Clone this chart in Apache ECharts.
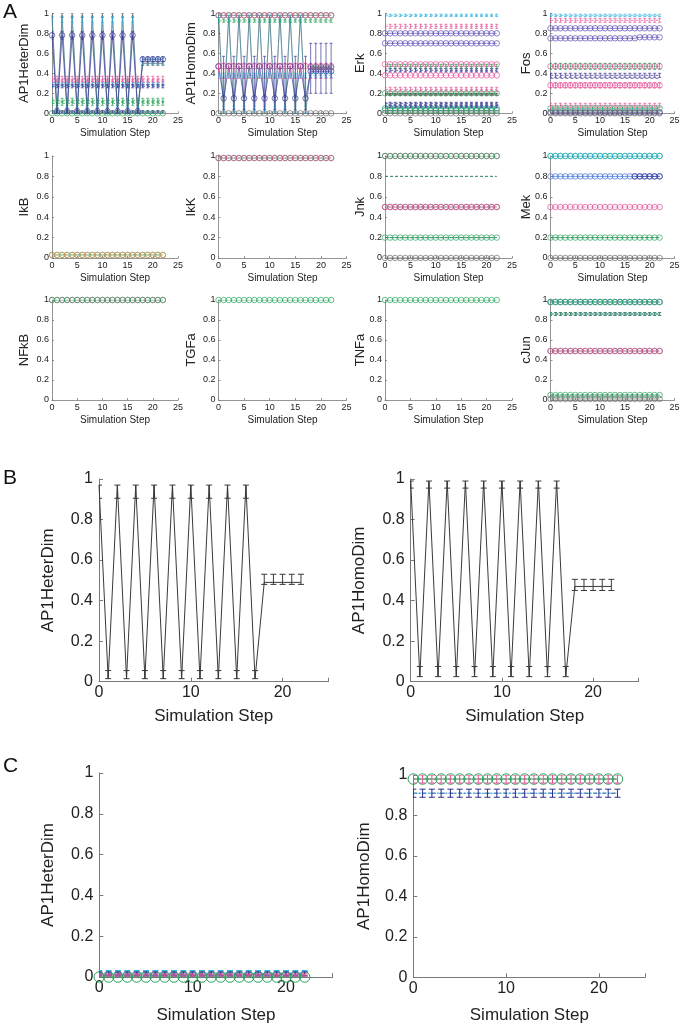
<!DOCTYPE html>
<html><head><meta charset="utf-8">
<script src="https://cdn.jsdelivr.net/npm/echarts@6/dist/echarts.min.js"></script>
<style>html,body{margin:0;padding:0;background:#fff}#c{width:682px;height:1029px}</style>
</head><body><div id="c"></div>
<script>
// ---------------- DATA ----------------
const steps = [0,1,2,3,4,5,6,7,8,9,10,11,12,13,14,15,16,17,18,19,20,21,22];
const panelANames = ['AP1HeterDim','AP1HomoDim','Erk','Fos','IkB','IkK','Jnk','Mek','NFkB','TGFa','TNFa','cJun'];

// A1 AP1HeterDim
const heterZigLow  = [0.74,0,0.74,0,0.74,0,0.74,0,0.74,0,0.74,0,0.74,0,0.74,0,0.74,0,0.515,0.515,0.515,0.515,0.515];
const heterZigHigh = [0.82,0.05,0.82,0.05,0.82,0.05,0.82,0.05,0.82,0.05,0.82,0.05,0.82,0.05,0.82,0.05,0.82,0.05,0.565,0.565,0.565,0.565,0.565];
const heterDimA = [
  [0.98,0.01,0.98,0.01,0.98,0.01,0.98,0.01,0.98,0.01,0.98,0.01,0.98,0.01,0.98,0.01,0.98,0.01,0.5,0.5,0.5,0.5,0.5],
  [0.94,0.03,0.94,0.03,0.94,0.03,0.94,0.03,0.94,0.03,0.94,0.03,0.94,0.03,0.94,0.03,0.94,0.03,0.52,0.52,0.52,0.52,0.52],
  [0.345,0.345,0.345,0.345,0.345,0.345,0.345,0.345,0.345,0.345,0.345,0.345,0.345,0.345,0.345,0.345,0.345,0.345,0.345,0.345,0.345,0.345,0.345],
  [0.31,0.31,0.31,0.31,0.31,0.31,0.31,0.31,0.31,0.31,0.31,0.31,0.31,0.31,0.31,0.31,0.31,0.31,0.31,0.31,0.31,0.31,0.31],
  [0.29,0.29,0.29,0.29,0.29,0.29,0.29,0.29,0.29,0.29,0.29,0.29,0.29,0.29,0.29,0.29,0.29,0.29,0.29,0.29,0.29,0.29,0.29],
  [0.27,0.27,0.27,0.27,0.27,0.27,0.27,0.27,0.27,0.27,0.27,0.27,0.27,0.27,0.27,0.27,0.27,0.27,0.27,0.27,0.27,0.27,0.27],
  [0.13,0.13,0.13,0.13,0.13,0.13,0.13,0.13,0.13,0.13,0.13,0.13,0.13,0.13,0.13,0.13,0.13,0.13,0.13,0.13,0.13,0.13,0.13],
  [0.10,0.10,0.10,0.10,0.10,0.10,0.10,0.10,0.10,0.10,0.10,0.10,0.10,0.10,0.10,0.10,0.10,0.10,0.10,0.10,0.10,0.10,0.10],
  [0.015,0.015,0.015,0.015,0.015,0.015,0.015,0.015,0.015,0.015,0.015,0.015,0.015,0.015,0.015,0.015,0.015,0.015,0.015,0.015,0.015,0.015,0.015],
  [0,0,0,0,0,0,0,0,0,0,0,0,0,0,0,0,0,0,0,0,0,0,0],
  [0.78,0.02,0.78,0.02,0.78,0.02,0.78,0.02,0.78,0.02,0.78,0.02,0.78,0.02,0.78,0.02,0.78,0.02,0.54,0.54,0.54,0.54,0.54]
];
const heterDimAErr = [0.02, 0.03, 0.025, 0.025, 0.015, 0.015, 0.02, 0.02, 0.01, 0, {lo: heterZigLow, hi: heterZigHigh}];
const heterDimAStyle = ['grayL','cyanDot','pinkD','pinkD','cyanD','navyD','greenD','greenD','navyDot','greenO','navyO'];

// A2 AP1HomoDim
const homoZigLow  = [0.47,0.04,0.47,0.04,0.47,0.04,0.47,0.04,0.47,0.04,0.47,0.04,0.47,0.04,0.47,0.04,0.47,0.04,0.2,0.2,0.2,0.2,0.2];
const homoZigHigh = [0.47,0.57,0.47,0.57,0.47,0.57,0.47,0.57,0.47,0.57,0.47,0.57,0.47,0.57,0.47,0.57,0.47,0.57,0.7,0.7,0.7,0.7,0.7];
const homoDimA = [
  [0.98,0.0,0.98,0.0,0.98,0.0,0.98,0.0,0.98,0.0,0.98,0.0,0.98,0.0,0.98,0.0,0.98,0.0,0.46,0.46,0.46,0.46,0.46],
  [0.95,0.04,0.95,0.04,0.95,0.04,0.95,0.04,0.95,0.04,0.95,0.04,0.95,0.04,0.95,0.04,0.95,0.04,0.44,0.44,0.44,0.44,0.44],
  [0.98,0.98,0.98,0.98,0.98,0.98,0.98,0.98,0.98,0.98,0.98,0.98,0.98,0.98,0.98,0.98,0.98,0.98,0.98,0.98,0.98,0.98,0.98],
  [0.98,0.98,0.98,0.98,0.98,0.98,0.98,0.98,0.98,0.98,0.98,0.98,0.98,0.98,0.98,0.98,0.98,0.98,0.98,0.98,0.98,0.98,0.98],
  [0.925,0.925,0.925,0.925,0.925,0.925,0.925,0.925,0.925,0.925,0.925,0.925,0.925,0.925,0.925,0.925,0.925,0.925,0.925,0.925,0.925,0.925,0.925],
  [0.47,0.47,0.47,0.47,0.47,0.47,0.47,0.47,0.47,0.47,0.47,0.47,0.47,0.47,0.47,0.47,0.47,0.47,0.47,0.47,0.47,0.47,0.47],
  [0.38,0.38,0.38,0.38,0.38,0.38,0.38,0.38,0.38,0.38,0.38,0.38,0.38,0.38,0.38,0.38,0.38,0.38,0.38,0.38,0.38,0.38,0.38],
  [null,null,null,null,null,null,null,null,null,null,null,null,null,null,null,null,null,null,0.46,0.46,0.46,0.46,0.46],
  [0,0,0,0,0,0,0,0,0,0,0,0,0,0,0,0,0,0,0,0,0,0,0],
  [0.47,0.15,0.47,0.15,0.47,0.15,0.47,0.15,0.47,0.15,0.47,0.15,0.47,0.15,0.47,0.15,0.47,0.15,0.42,0.42,0.42,0.42,0.42]
];
const homoDimAErr = [0, 0.03, 0, 0, 0.015, {lo: 0.35, hi: 0.5}, 0.02, 0, 0, {lo: homoZigLow, hi: homoZigHigh}];
const homoDimAStyle = ['grayL','cyanDot','greenO','pinkO','greenD','pinkO','cyanD','grayO','grayO','navyO'];

// A3 Erk
const erkA = [
  [0.98,0.98,0.98,0.98,0.98,0.98,0.98,0.98,0.98,0.98,0.98,0.98,0.98,0.98,0.98,0.98,0.98,0.98,0.98,0.98,0.98,0.98,0.98],
  [0.87,0.87,0.87,0.87,0.87,0.87,0.87,0.87,0.87,0.87,0.87,0.87,0.87,0.87,0.87,0.87,0.87,0.87,0.87,0.87,0.87,0.87,0.87],
  [0.80,0.80,0.80,0.80,0.80,0.80,0.80,0.80,0.80,0.80,0.80,0.80,0.80,0.80,0.80,0.80,0.80,0.80,0.80,0.80,0.80,0.80,0.80],
  [0.70,0.70,0.70,0.70,0.70,0.70,0.70,0.70,0.70,0.70,0.70,0.70,0.70,0.70,0.70,0.70,0.70,0.70,0.70,0.70,0.70,0.70,0.70],
  [0.49,0.49,0.49,0.49,0.49,0.49,0.49,0.49,0.49,0.49,0.49,0.49,0.49,0.49,0.49,0.49,0.49,0.49,0.49,0.49,0.49,0.49,0.49],
  [0.47,0.47,0.47,0.47,0.47,0.47,0.47,0.47,0.47,0.47,0.47,0.47,0.47,0.47,0.47,0.47,0.47,0.47,0.47,0.47,0.47,0.47,0.47],
  [0.43,0.43,0.43,0.43,0.43,0.43,0.43,0.43,0.43,0.43,0.43,0.43,0.43,0.43,0.43,0.43,0.43,0.43,0.43,0.43,0.43,0.43,0.43],
  [0.38,0.38,0.38,0.38,0.38,0.38,0.38,0.38,0.38,0.38,0.38,0.38,0.38,0.38,0.38,0.38,0.38,0.38,0.38,0.38,0.38,0.38,0.38],
  [0.24,0.24,0.24,0.24,0.24,0.24,0.24,0.24,0.24,0.24,0.24,0.24,0.24,0.24,0.24,0.24,0.24,0.24,0.24,0.24,0.24,0.24,0.24],
  [0.20,0.20,0.20,0.20,0.20,0.20,0.20,0.20,0.20,0.20,0.20,0.20,0.20,0.20,0.20,0.20,0.20,0.20,0.20,0.20,0.20,0.20,0.20],
  [0.19,0.19,0.19,0.19,0.19,0.19,0.19,0.19,0.19,0.19,0.19,0.19,0.19,0.19,0.19,0.19,0.19,0.19,0.19,0.19,0.19,0.19,0.19],
  [0.10,0.10,0.10,0.10,0.10,0.10,0.10,0.10,0.10,0.10,0.10,0.10,0.10,0.10,0.10,0.10,0.10,0.10,0.10,0.10,0.10,0.10,0.10],
  [0.07,0.07,0.07,0.07,0.07,0.07,0.07,0.07,0.07,0.07,0.07,0.07,0.07,0.07,0.07,0.07,0.07,0.07,0.07,0.07,0.07,0.07,0.07],
  [0.05,0.05,0.05,0.05,0.05,0.05,0.05,0.05,0.05,0.05,0.05,0.05,0.05,0.05,0.05,0.05,0.05,0.05,0.05,0.05,0.05,0.05,0.05],
  [0.03,0.03,0.03,0.03,0.03,0.03,0.03,0.03,0.03,0.03,0.03,0.03,0.03,0.03,0.03,0.03,0.03,0.03,0.03,0.03,0.03,0.03,0.03],
  [0,0,0,0,0,0,0,0,0,0,0,0,0,0,0,0,0,0,0,0,0,0,0]
];
const erkAErr = [0.012, 0.02, 0, 0, 0, 0.02, 0.015, 0, 0.02, 0, 0.01, 0.01, 0.01, 0, 0, 0];
const erkAStyle = ['cyanD','pinkD','purpleO','purpleO','pinkO','greenD','navyD','pinkO','pinkD','greenO','grayL','navyD','navyD','tealO','greenO','grayO'];

// A4 Fos
const fosA = [
  [0.98,0.98,0.98,0.98,0.98,0.98,0.98,0.98,0.98,0.98,0.98,0.98,0.98,0.98,0.98,0.98,0.98,0.98,0.98,0.98,0.98,0.98,0.98],
  [0.93,0.93,0.93,0.93,0.93,0.93,0.93,0.93,0.93,0.93,0.93,0.93,0.93,0.93,0.93,0.93,0.93,0.93,0.93,0.93,0.93,0.93,0.93],
  [0.85,0.85,0.85,0.85,0.85,0.85,0.85,0.85,0.85,0.85,0.85,0.85,0.85,0.85,0.85,0.85,0.85,0.85,0.85,0.85,0.85,0.85,0.85],
  [0.75,0.75,0.75,0.75,0.75,0.75,0.75,0.75,0.75,0.75,0.75,0.75,0.75,0.75,0.75,0.75,0.75,0.75,0.76,0.76,0.76,0.76,0.76],
  [0.47,0.47,0.47,0.47,0.47,0.47,0.47,0.47,0.47,0.47,0.47,0.47,0.47,0.47,0.47,0.47,0.47,0.47,0.47,0.47,0.47,0.47,0.47],
  [0.47,0.47,0.47,0.47,0.47,0.47,0.47,0.47,0.47,0.47,0.47,0.47,0.47,0.47,0.47,0.47,0.47,0.47,0.47,0.47,0.47,0.47,0.47],
  [0.38,0.38,0.38,0.38,0.38,0.38,0.38,0.38,0.38,0.38,0.38,0.38,0.38,0.38,0.38,0.38,0.38,0.38,0.38,0.38,0.38,0.38,0.38],
  [0.35,0.35,0.35,0.35,0.35,0.35,0.35,0.35,0.35,0.35,0.35,0.35,0.35,0.35,0.35,0.35,0.35,0.35,0.35,0.35,0.35,0.35,0.35],
  [0.28,0.28,0.28,0.28,0.28,0.28,0.28,0.28,0.28,0.28,0.28,0.28,0.28,0.28,0.28,0.28,0.28,0.28,0.28,0.28,0.28,0.28,0.28],
  [0.08,0.08,0.08,0.08,0.08,0.08,0.08,0.08,0.08,0.08,0.08,0.08,0.08,0.08,0.08,0.08,0.08,0.08,0.08,0.08,0.08,0.08,0.08],
  [0.05,0.05,0.05,0.05,0.05,0.05,0.05,0.05,0.05,0.05,0.05,0.05,0.05,0.05,0.05,0.05,0.05,0.05,0.05,0.05,0.05,0.05,0.05],
  [0.01,0.01,0.01,0.01,0.01,0.01,0.01,0.01,0.01,0.01,0.01,0.01,0.01,0.01,0.01,0.01,0.01,0.01,0.01,0.01,0.01,0.01,0.01],
  [0,0,0,0,0,0,0,0,0,0,0,0,0,0,0,0,0,0,0,0,0,0,0]
];
const fosAErr = [0.012, 0.02, 0, 0, 0, 0.03, 0.02, 0, 0.025, 0.02, 0, 0, 0];
const fosAStyle = ['cyanD','pinkD','purpleO','purpleO','pinkO','greenD','navyD','navyD','pinkO','pinkD','greenO','navyO','grayO'];

// A5 IkB
const ikbA = [
  [0.03,0.03,0.03,0.03,0.03,0.03,0.03,0.03,0.03,0.03,0.03,0.03,0.03,0.03,0.03,0.03,0.03,0.03,0.03,0.03,0.03,0.03,0.03],
  [0.03,0.03,0.03,0.03,0.03,0.03,0.03,0.03,0.03,0.03,0.03,0.03,0.03,0.03,0.03,0.03,0.03,0.03,0.03,0.03,0.03,0.03,0.03]
];
const ikbAErr = [0, 0];
const ikbAStyle = ['greenO','orangeO'];

// A6 IkK
const ikkA = [
  [0.98,0.98,0.98,0.98,0.98,0.98,0.98,0.98,0.98,0.98,0.98,0.98,0.98,0.98,0.98,0.98,0.98,0.98,0.98,0.98,0.98,0.98,0.98],
  [0.98,0.98,0.98,0.98,0.98,0.98,0.98,0.98,0.98,0.98,0.98,0.98,0.98,0.98,0.98,0.98,0.98,0.98,0.98,0.98,0.98,0.98,0.98]
];
const ikkAErr = [0, 0];
const ikkAStyle = ['greenO','pinkO'];

// A7 Jnk
const jnkA = [
  [1,1,1,1,1,1,1,1,1,1,1,1,1,1,1,1,1,1,1,1,1,1,1],
  [1,1,1,1,1,1,1,1,1,1,1,1,1,1,1,1,1,1,1,1,1,1,1],
  [0.8,0.8,0.8,0.8,0.8,0.8,0.8,0.8,0.8,0.8,0.8,0.8,0.8,0.8,0.8,0.8,0.8,0.8,0.8,0.8,0.8,0.8,0.8],
  [0.8,0.8,0.8,0.8,0.8,0.8,0.8,0.8,0.8,0.8,0.8,0.8,0.8,0.8,0.8,0.8,0.8,0.8,0.8,0.8,0.8,0.8,0.8],
  [0.5,0.5,0.5,0.5,0.5,0.5,0.5,0.5,0.5,0.5,0.5,0.5,0.5,0.5,0.5,0.5,0.5,0.5,0.5,0.5,0.5,0.5,0.5],
  [0.5,0.5,0.5,0.5,0.5,0.5,0.5,0.5,0.5,0.5,0.5,0.5,0.5,0.5,0.5,0.5,0.5,0.5,0.5,0.5,0.5,0.5,0.5],
  [0.2,0.2,0.2,0.2,0.2,0.2,0.2,0.2,0.2,0.2,0.2,0.2,0.2,0.2,0.2,0.2,0.2,0.2,0.2,0.2,0.2,0.2,0.2],
  [0.2,0.2,0.2,0.2,0.2,0.2,0.2,0.2,0.2,0.2,0.2,0.2,0.2,0.2,0.2,0.2,0.2,0.2,0.2,0.2,0.2,0.2,0.2],
  [0,0,0,0,0,0,0,0,0,0,0,0,0,0,0,0,0,0,0,0,0,0,0]
];
const jnkAErr = [0, 0, 0, 0, 0, 0, 0, 0, 0];
const jnkAStyle = ['pinkO','greenO','navyD','greenD','grayO','pinkO','navyD','greenO','grayO'];

// A8 Mek
const mekA = [
  [1,1,1,1,1,1,1,1,1,1,1,1,1,1,1,1,1,1,1,1,1,1,1],
  [1,1,1,1,1,1,1,1,1,1,1,1,1,1,1,1,1,1,1,1,1,1,1],
  [0.8,0.8,0.8,0.8,0.8,0.8,0.8,0.8,0.8,0.8,0.8,0.8,0.8,0.8,0.8,0.8,0.8,0.8,0.8,0.8,0.8,0.8,0.8],
  [null,null,null,null,null,null,null,null,null,null,null,null,null,null,null,null,null,0.8,0.8,0.8,0.8,0.8,0.8],
  [0.5,0.5,0.5,0.5,0.5,0.5,0.5,0.5,0.5,0.5,0.5,0.5,0.5,0.5,0.5,0.5,0.5,0.5,0.5,0.5,0.5,0.5,0.5],
  [0.2,0.2,0.2,0.2,0.2,0.2,0.2,0.2,0.2,0.2,0.2,0.2,0.2,0.2,0.2,0.2,0.2,0.2,0.2,0.2,0.2,0.2,0.2],
  [0.2,0.2,0.2,0.2,0.2,0.2,0.2,0.2,0.2,0.2,0.2,0.2,0.2,0.2,0.2,0.2,0.2,0.2,0.2,0.2,0.2,0.2,0.2],
  [0,0,0,0,0,0,0,0,0,0,0,0,0,0,0,0,0,0,0,0,0,0,0]
];
const mekAErr = [0, 0, 0, 0, 0, 0, 0, 0];
const mekAStyle = ['greenO','cyanO','blueO','navyO','pinkO','navyD','greenO','grayO'];

// A9 NFkB, A10 TGFa, A11 TNFa
const nfkbA = [
  [1,1,1,1,1,1,1,1,1,1,1,1,1,1,1,1,1,1,1,1,1,1,1],
  [1,1,1,1,1,1,1,1,1,1,1,1,1,1,1,1,1,1,1,1,1,1,1]
];
const nfkbAErr = [0, 0];
const nfkbAStyle = ['pinkO','greenO'];
const tgfaA = [[1,1,1,1,1,1,1,1,1,1,1,1,1,1,1,1,1,1,1,1,1,1,1]];
const tgfaAErr = [0];
const tgfaAStyle = ['greenO'];
const tnfaA = [[1,1,1,1,1,1,1,1,1,1,1,1,1,1,1,1,1,1,1,1,1,1,1]];
const tnfaAErr = [0];
const tnfaAStyle = ['greenO'];

// A12 cJun
const cjunA = [
  [0.98,0.98,0.98,0.98,0.98,0.98,0.98,0.98,0.98,0.98,0.98,0.98,0.98,0.98,0.98,0.98,0.98,0.98,0.98,0.98,0.98,0.98,0.98],
  [0.98,0.98,0.98,0.98,0.98,0.98,0.98,0.98,0.98,0.98,0.98,0.98,0.98,0.98,0.98,0.98,0.98,0.98,0.98,0.98,0.98,0.98,0.98],
  [0.98,0.98,0.98,0.98,0.98,0.98,0.98,0.98,0.98,0.98,0.98,0.98,0.98,0.98,0.98,0.98,0.98,0.98,0.98,0.98,0.98,0.98,0.98],
  [0.86,0.86,0.86,0.86,0.86,0.86,0.86,0.86,0.86,0.86,0.86,0.86,0.86,0.86,0.86,0.86,0.86,0.86,0.86,0.86,0.86,0.86,0.86],
  [0.86,0.86,0.86,0.86,0.86,0.86,0.86,0.86,0.86,0.86,0.86,0.86,0.86,0.86,0.86,0.86,0.86,0.86,0.86,0.86,0.86,0.86,0.86],
  [0.49,0.49,0.49,0.49,0.49,0.49,0.49,0.49,0.49,0.49,0.49,0.49,0.49,0.49,0.49,0.49,0.49,0.49,0.49,0.49,0.49,0.49,0.49],
  [0.49,0.49,0.49,0.49,0.49,0.49,0.49,0.49,0.49,0.49,0.49,0.49,0.49,0.49,0.49,0.49,0.49,0.49,0.49,0.49,0.49,0.49,0.49],
  [0.05,0.05,0.05,0.05,0.05,0.05,0.05,0.05,0.05,0.05,0.05,0.05,0.05,0.05,0.05,0.05,0.05,0.05,0.05,0.05,0.05,0.05,0.05],
  [0.05,0.05,0.05,0.05,0.05,0.05,0.05,0.05,0.05,0.05,0.05,0.05,0.05,0.05,0.05,0.05,0.05,0.05,0.05,0.05,0.05,0.05,0.05],
  [0.01,0.01,0.01,0.01,0.01,0.01,0.01,0.01,0.01,0.01,0.01,0.01,0.01,0.01,0.01,0.01,0.01,0.01,0.01,0.01,0.01,0.01,0.01]
];
const cjunAErr = [0, 0, 0, 0.015, 0.015, 0, 0, 0, 0, 0];
const cjunAStyle = ['pinkO','cyanO','greenO','navyD','greenD','grayO','pinkO','navyD','greenO','grayO'];

// Panel B
const heterB     = [0.97,0.015,0.97,0.015,0.97,0.015,0.97,0.015,0.97,0.015,0.97,0.015,0.97,0.015,0.97,0.015,0.97,0.015,0.49,0.49,0.49,0.49,0.49];
const heterBLow  = [0.905,0.015,0.905,0.015,0.905,0.015,0.905,0.015,0.905,0.015,0.905,0.015,0.905,0.015,0.905,0.015,0.905,0.015,0.48,0.48,0.48,0.48,0.48];
const heterBHigh = [0.97,0.055,0.97,0.055,0.97,0.055,0.97,0.055,0.97,0.055,0.97,0.055,0.97,0.055,0.97,0.055,0.97,0.055,0.53,0.53,0.53,0.53,0.53];
const homoB      = [0.99,0.025,0.99,0.025,0.99,0.025,0.99,0.025,0.99,0.025,0.99,0.025,0.99,0.025,0.99,0.025,0.99,0.025,0.47,0.47,0.47,0.47,0.47];
const homoBLow   = [0.955,0.025,0.955,0.025,0.955,0.025,0.955,0.025,0.955,0.025,0.955,0.025,0.955,0.025,0.955,0.025,0.955,0.025,0.45,0.45,0.45,0.45,0.45];
const homoBHigh  = [0.99,0.075,0.99,0.075,0.99,0.075,0.99,0.075,0.99,0.075,0.99,0.075,0.99,0.075,0.99,0.075,0.99,0.075,0.505,0.505,0.505,0.505,0.505];

// Panel C
const heterC = [
  [0.02,0.02,0.02,0.02,0.02,0.02,0.02,0.02,0.02,0.02,0.02,0.02,0.02,0.02,0.02,0.02,0.02,0.02,0.02,0.02,0.02,0.02,0.02],
  [0.015,0.015,0.015,0.015,0.015,0.015,0.015,0.015,0.015,0.015,0.015,0.015,0.015,0.015,0.015,0.015,0.015,0.015,0.015,0.015,0.015,0.015,0.015],
  [0.01,0.01,0.01,0.01,0.01,0.01,0.01,0.01,0.01,0.01,0.01,0.01,0.01,0.01,0.01,0.01,0.01,0.01,0.01,0.01,0.01,0.01,0.01],
  [0.01,0.01,0.01,0.01,0.01,0.01,0.01,0.01,0.01,0.01,0.01,0.01,0.01,0.01,0.01,0.01,0.01,0.01,0.01,0.01,0.01,0.01,0.01],
  [0,0,0,0,0,0,0,0,0,0,0,0,0,0,0,0,0,0,0,0,0,0,0]
];
const heterCErr = [0.012, 0.01, 0.005, 0, 0];
const heterCStyle = ['cyanD','navyDD','pinkD','blackDot','greenO'];
const homoC = [
  [0.91,0.91,0.91,0.91,0.91,0.91,0.91,0.91,0.91,0.91,0.91,0.91,0.91,0.91,0.91,0.91,0.91,0.91,0.91,0.91,0.91,0.91,0.91],
  [0.91,0.91,0.91,0.91,0.91,0.91,0.91,0.91,0.91,0.91,0.91,0.91,0.91,0.91,0.91,0.91,0.91,0.91,0.91,0.91,0.91,0.91,0.91],
  [0.98,0.98,0.98,0.98,0.98,0.98,0.98,0.98,0.98,0.98,0.98,0.98,0.98,0.98,0.98,0.98,0.98,0.98,0.98,0.98,0.98,0.98,0.98],
  [0.98,0.98,0.98,0.98,0.98,0.98,0.98,0.98,0.98,0.98,0.98,0.98,0.98,0.98,0.98,0.98,0.98,0.98,0.98,0.98,0.98,0.98,0.98]
];
const homoCErr = [0.02, 0, 0.02, 0];
const homoCStyle = ['navyDD','cyanD','pinkD','greenO'];

// ---------------- STYLES / LAYOUT ----------------
const FONT = '"Liberation Sans", Arial, Helvetica, sans-serif';
const STYLE = {
  navyO:   {c:'#3b3696', sym:'circle', ls:'solid'},
  navyD:   {c:'#2e2c8c', sym:'none', ls:[3,2]},
  navyDD:  {c:'#2e2c8c', sym:'none', ls:[4,2,1,2]},
  navyDot: {c:'#2e2c8c', sym:'none', ls:'dotted'},
  purpleO: {c:'#5b4bb0', sym:'circle', ls:'solid'},
  blueO:   {c:'#3c6fd6', sym:'circle', ls:'solid'},
  grayO:   {c:'#6a6a6a', sym:'circle', ls:'solid'},
  grayL:   {c:'#4a4a4a', sym:'none', ls:'solid'},
  blackDot:{c:'#222222', sym:'none', ls:'dotted'},
  greenO:  {c:'#2aa35a', sym:'circle', ls:'solid'},
  greenD:  {c:'#2aa35a', sym:'none', ls:[3,2]},
  pinkO:   {c:'#e34f98', sym:'circle', ls:'dotted'},
  pinkD:   {c:'#e34f98', sym:'none', ls:[3,2]},
  orangeO: {c:'#e8925a', sym:'circle', ls:'dotted'},
  cyanO:   {c:'#2fb5e3', sym:'circle', ls:'solid'},
  cyanD:   {c:'#2fb5e3', sym:'none', ls:[3,2]},
  cyanDot: {c:'#2fb5e3', sym:'none', ls:'dotted'},
  tealO:   {c:'#1f9c8e', sym:'circle', ls:'solid'},
  blackL:  {c:'#3a3a3a', sym:'none', ls:'solid'}
};

const panelA = [
  [heterDimA, heterDimAErr, heterDimAStyle], [homoDimA, homoDimAErr, homoDimAStyle],
  [erkA, erkAErr, erkAStyle], [fosA, fosAErr, fosAStyle],
  [ikbA, ikbAErr, ikbAStyle], [ikkA, ikkAErr, ikkAStyle],
  [jnkA, jnkAErr, jnkAStyle], [mekA, mekAErr, mekAStyle],
  [nfkbA, nfkbAErr, nfkbAStyle], [tgfaA, tgfaAErr, tgfaAStyle],
  [tnfaA, tnfaAErr, tnfaAStyle], [cjunA, cjunAErr, cjunAStyle]
];

const colLeft = [52, 218.5, 385, 550.5];
const colW = [126, 128, 127, 124];
const rowTop = [13.3, 156, 300];
const rowH = [100, 102, 100];

const grids = [], xAxes = [], yAxes = [], series = [];
const AXC = '#7a7a7a', TXT = '#222';

function errRenderer(color, cap, lw) {
  return function (params, api) {
    const x = api.value(0), lo = api.value(1), hi = api.value(2);
    const a = api.coord([x, lo]), b = api.coord([x, hi]);
    const style = {stroke: color, lineWidth: lw, fill: null};
    return {type: 'group', children: [
      {type: 'line', shape: {x1: a[0], y1: a[1], x2: b[0], y2: b[1]}, style: style},
      {type: 'line', shape: {x1: a[0] - cap, y1: a[1], x2: a[0] + cap, y2: a[1]}, style: style},
      {type: 'line', shape: {x1: b[0] - cap, y1: b[1], x2: b[0] + cap, y2: b[1]}, style: style}
    ]};
  };
}

function addSeries(g, vals, err, styleKey, o) {
  const st = STYLE[styleKey];
  const data = [];
  steps.forEach((x, i) => { if (vals[i] !== null && vals[i] !== undefined) data.push([x, vals[i]]); });
  series.push({
    type: 'line', xAxisIndex: g, yAxisIndex: g, data: data, silent: true, animation: false,
    symbol: st.sym, symbolSize: o.sym, showSymbol: st.sym !== 'none',
    lineStyle: {color: st.c, width: o.lw, type: st.ls},
    itemStyle: {color: 'rgba(0,0,0,0)', borderColor: st.c, borderWidth: o.lw},
    emphasis: {disabled: true}, z: 2
  });
  if (err) {
    const ed = [];
    steps.forEach((x, i) => {
      const v = vals[i];
      if (v === null || v === undefined) return;
      let lo, hi;
      if (typeof err === 'number') { lo = v - err; hi = v + err; }
      else {
        lo = typeof err.lo === 'number' ? err.lo : err.lo[i];
        hi = typeof err.hi === 'number' ? err.hi : err.hi[i];
      }
      lo = Math.max(0, lo); hi = Math.min(1, hi);
      if (hi - lo > 1e-6) ed.push([x, lo, hi]);
    });
    series.push({
      type: 'custom', xAxisIndex: g, yAxisIndex: g, data: ed, silent: true, animation: false,
      renderItem: errRenderer(st.c, o.cap, o.lw), clip: true, z: 3
    });
  }
}

function axisPair(g, o) {
  xAxes.push({
    gridIndex: g, type: 'value', min: 0, max: 25, interval: o.xInt,
    axisLine: {show: true, onZero: false, lineStyle: {color: AXC, width: o.axW}},
    axisTick: {show: true, inside: true, length: o.tick, lineStyle: {color: AXC, width: o.axW}},
    axisLabel: {fontSize: o.tickFs, color: TXT, margin: o.xMargin, fontFamily: FONT,
      formatter: v => (v % o.xLab === 0 ? String(v) : '')},
    splitLine: {show: false},
    name: 'Simulation Step', nameLocation: 'middle', nameGap: o.xGap, nameMoveOverlap: false,
    nameTextStyle: {fontSize: o.xNameFs, color: TXT, fontFamily: FONT, verticalAlign: 'top'}
  });
  yAxes.push({
    gridIndex: g, type: 'value', min: 0, max: 1, interval: 0.2,
    axisLine: {show: true, onZero: false, lineStyle: {color: AXC, width: o.axW}},
    axisTick: {show: true, inside: true, length: o.tick, lineStyle: {color: AXC, width: o.axW}},
    axisLabel: {fontSize: o.tickFs, color: TXT, margin: o.yMargin, fontFamily: FONT},
    splitLine: {show: false},
    name: o.yName, nameLocation: 'middle', nameGap: o.yGap, nameRotate: 90, nameMoveOverlap: false,
    nameTextStyle: {fontSize: o.yNameFs, color: TXT, fontFamily: FONT}
  });
}

// Panel A
panelA.forEach((p, k) => {
  const r = Math.floor(k / 4), c = k % 4;
  grids.push({left: colLeft[c], top: rowTop[r], width: colW[c], height: rowH[r],
    containLabel: false, outerBoundsMode: 'none', show: false});
  axisPair(k, {xInt: 5, xLab: 5, axW: 0.8, tick: 2, tickFs: 9, xMargin: 3, yMargin: 3,
    xGap: 15, xNameFs: 10, yName: panelANames[k], yGap: k % 4 < 2 ? 21 : 18, yNameFs: 13});
  const [vals, errs, sts] = p;
  vals.forEach((v, j) => addSeries(k, v, errs[j], sts[j], {sym: 5.5, lw: 0.7, cap: 1.5}));
});

// Panels B and C
const bGrids = [
  {left: 99, top: 479, width: 229.5, height: 202.7, name: 'AP1HeterDim', gap: 42},
  {left: 410.7, top: 479, width: 228, height: 202.7, name: 'AP1HomoDim', gap: 43}
];
const cGrids = [
  {left: 99.3, top: 773, width: 233.4, height: 204, name: 'AP1HeterDim', gap: 42},
  {left: 413.3, top: 775, width: 232, height: 202.3, name: 'AP1HomoDim', gap: 40}
];
const bigOpts = (gg, xGap) => ({xInt: 10, xLab: 10, axW: 1, tick: 4, tickFs: 16, xMargin: 3, yMargin: 6,
  xGap: xGap, xNameFs: 17, yName: gg.name, yGap: gg.gap, yNameFs: 17});

bGrids.forEach((gg, i) => {
  const g = 12 + i;
  grids.push({left: gg.left, top: gg.top, width: gg.width, height: gg.height, containLabel: false, outerBoundsMode: 'none', show: false});
  axisPair(g, bigOpts(gg, 26));
});
addSeries(12, heterB, {lo: heterBLow, hi: heterBHigh}, 'blackL', {sym: 0, lw: 1, cap: 3});
addSeries(13, homoB, {lo: homoBLow, hi: homoBHigh}, 'blackL', {sym: 0, lw: 1, cap: 3});

cGrids.forEach((gg, i) => {
  const g = 14 + i;
  grids.push({left: gg.left, top: gg.top, width: gg.width, height: gg.height, containLabel: false, outerBoundsMode: 'none', show: false});
  axisPair(g, bigOpts(gg, 30));
});
heterC.forEach((v, j) => addSeries(14, v, heterCErr[j], heterCStyle[j], {sym: 10.5, lw: 1, cap: 3}));
homoC.forEach((v, j) => addSeries(15, v, homoCErr[j], homoCStyle[j], {sym: 10.5, lw: 1, cap: 3}));

const chart = echarts.init(document.getElementById('c'), null, {renderer: 'canvas'});
chart.setOption({
  backgroundColor: '#ffffff',
  animation: false,
  tooltip: {show: false},
  grid: grids, xAxis: xAxes, yAxis: yAxes, series: series,
  graphic: [
    {type: 'text', left: 3, top: 2, style: {text: 'A', fontSize: 21, fill: '#111', fontFamily: FONT}},
    {type: 'text', left: 3, top: 468, style: {text: 'B', fontSize: 21, fill: '#111', fontFamily: FONT}},
    {type: 'text', left: 3, top: 756, style: {text: 'C', fontSize: 21, fill: '#111', fontFamily: FONT}}
  ]
});
</script></body></html>
